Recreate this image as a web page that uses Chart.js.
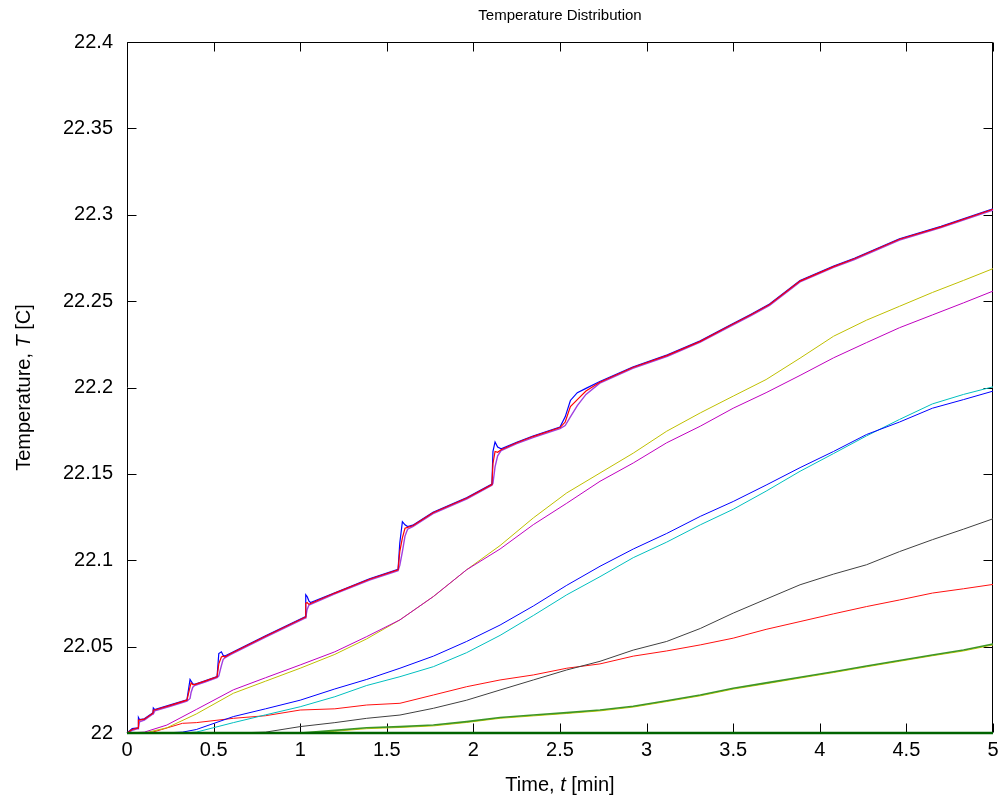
<!DOCTYPE html>
<html>
<head>
<meta charset="utf-8">
<script src="https://cdn.jsdelivr.net/npm/chart.js@4.4.1/dist/chart.umd.min.js"></script>
<style>
html,body{margin:0;padding:0;background:#fff;}
#wrap{width:1005px;height:805px;position:relative;}
canvas{display:block;}
</style>
</head>
<body>
<div id="wrap"><canvas id="c" width="1005" height="805"></canvas></div>
<script>
// ---- Data ----
const chartTitle = "Temperature Distribution";
const xTickValues = [0, 0.5, 1, 1.5, 2, 2.5, 3, 3.5, 4, 4.5, 5];
const yTickValues = [22, 22.05, 22.1, 22.15, 22.2, 22.25, 22.3, 22.35, 22.4];

// top group (three overlapping sensors)
const tTop = [0, 0.03, 0.064, 0.066, 0.072, 0.1, 0.15, 0.152, 0.16, 0.25, 0.346, 0.364, 0.37, 0.38, 0.39, 0.45, 0.52, 0.53, 0.545, 0.555, 0.565, 0.6, 0.8, 1.028, 1.032, 1.04, 1.05, 1.06, 1.2, 1.4, 1.565, 1.575, 1.59, 1.605, 1.62, 1.65, 1.767, 1.963, 2.107, 2.113, 2.125, 2.14, 2.16, 2.25, 2.344, 2.5, 2.53, 2.56, 2.6, 2.65, 2.73, 2.92, 3.12, 3.31, 3.48, 3.6, 3.71, 3.886, 4.08, 4.2, 4.46, 4.7, 5.0];
const topBlue = [22.000, 22.0025, 22.003, 22.009, 22.0078, 22.0082, 22.0118, 22.0145, 22.0135, 22.0163, 22.0192, 22.031, 22.030, 22.0285, 22.0282, 22.0302, 22.0327, 22.046, 22.047, 22.045, 22.0445, 22.0463, 22.0563, 22.0673, 22.080, 22.079, 22.0765, 22.0755, 22.0812, 22.0893, 22.0948, 22.110, 22.1223, 22.1205, 22.1195, 22.1203, 22.1278, 22.1363, 22.1441, 22.163, 22.1685, 22.1655, 22.1645, 22.1683, 22.1719, 22.1771, 22.183, 22.1925, 22.197, 22.1995, 22.2035, 22.2119, 22.2189, 22.227, 22.236, 22.2423, 22.2483, 22.2619, 22.2703, 22.2748, 22.2861, 22.2933, 22.3035];
const topRed = [22.000, 22.002, 22.003, 22.0075, 22.0075, 22.008, 22.0115, 22.0133, 22.0133, 22.016, 22.019, 22.0267, 22.029, 22.028, 22.028, 22.030, 22.0325, 22.040, 22.044, 22.0445, 22.044, 22.046, 22.056, 22.067, 22.075, 22.0755, 22.0745, 22.075, 22.081, 22.089, 22.0945, 22.105, 22.113, 22.1185, 22.119, 22.120, 22.1275, 22.136, 22.1438, 22.156, 22.163, 22.1625, 22.164, 22.168, 22.1716, 22.1768, 22.180, 22.189, 22.193, 22.198, 22.203, 22.2116, 22.2186, 22.2267, 22.2357, 22.242, 22.248, 22.2616, 22.270, 22.2745, 22.2858, 22.293, 22.3032];
const topPurple = [22.000, 22.0015, 22.0025, 22.003, 22.0065, 22.0075, 22.011, 22.011, 22.0128, 22.0155, 22.0185, 22.020, 22.0235, 22.0265, 22.0275, 22.0295, 22.032, 22.033, 22.039, 22.0425, 22.0435, 22.0455, 22.0555, 22.0665, 22.067, 22.0715, 22.074, 22.0745, 22.0805, 22.0885, 22.094, 22.097, 22.105, 22.114, 22.118, 22.1195, 22.127, 22.1355, 22.1435, 22.1445, 22.154, 22.1605, 22.1635, 22.1675, 22.171, 22.1762, 22.178, 22.183, 22.1895, 22.196, 22.2025, 22.2111, 22.2181, 22.2262, 22.2352, 22.2415, 22.2475, 22.2611, 22.2695, 22.274, 22.2853, 22.2925, 22.3027];

// middle pair
const tMid = [0, 0.1, 0.23, 0.4, 0.614, 0.8, 1.0, 1.2, 1.384, 1.576, 1.769, 1.961, 2.154, 2.346, 2.539, 2.731, 2.923, 3.116, 3.31, 3.5, 3.69, 3.886, 4.08, 4.27, 4.46, 4.65, 4.83, 5.0];
const midYellow = [22.000, 22.000, 22.003, 22.011, 22.023, 22.030, 22.0375, 22.0455, 22.0545, 22.0655, 22.079, 22.0945, 22.1085, 22.1245, 22.139, 22.1505, 22.162, 22.1747, 22.1853, 22.195, 22.2046, 22.217, 22.2297, 22.239, 22.247, 22.255, 22.262, 22.2688];
const midMagenta = [22.000, 22.0005, 22.0046, 22.0136, 22.025, 22.032, 22.0394, 22.047, 22.0558, 22.0655, 22.079, 22.0945, 22.1065, 22.1206, 22.133, 22.1457, 22.1563, 22.168, 22.1776, 22.188, 22.197, 22.207, 22.2172, 22.226, 22.2346, 22.242, 22.249, 22.2558];

// lower curves
const tLow = [0, 0.13, 0.2, 0.32, 0.4, 0.614, 0.8, 1.0, 1.2, 1.384, 1.576, 1.769, 1.961, 2.154, 2.346, 2.539, 2.731, 2.923, 3.116, 3.31, 3.5, 3.69, 3.886, 4.08, 4.27, 4.46, 4.65, 4.83, 5.0];
const lowBlue = [22.000, 22.000, 22.000, 22.0005, 22.002, 22.0095, 22.014, 22.019, 22.0255, 22.031, 22.0375, 22.0445, 22.053, 22.0625, 22.0735, 22.0855, 22.0965, 22.1065, 22.1155, 22.1254, 22.134, 22.1435, 22.1536, 22.163, 22.1728, 22.180, 22.188, 22.193, 22.1979];
const lowCyan = [22.000, 22.000, 22.000, 22.000, 22.0005, 22.006, 22.0105, 22.0152, 22.021, 22.0275, 22.0326, 22.0384, 22.0465, 22.0565, 22.068, 22.080, 22.0905, 22.1015, 22.1105, 22.1205, 22.1295, 22.140, 22.1515, 22.1618, 22.172, 22.1815, 22.1905, 22.196, 22.2004];
const lowBlack = [22.000, 22.000, 22.000, 22.000, 22.000, 22.000, 22.0005, 22.0037, 22.006, 22.0085, 22.0104, 22.0143, 22.019, 22.0249, 22.0307, 22.0365, 22.0415, 22.048, 22.053, 22.0605, 22.0694, 22.0775, 22.0858, 22.092, 22.0974, 22.105, 22.1119, 22.118, 22.124];
const lowRed = [22.000, 22.000, 22.002, 22.0056, 22.006, 22.0085, 22.010, 22.0133, 22.014, 22.0162, 22.0172, 22.022, 22.0268, 22.0307, 22.0336, 22.0375, 22.040, 22.0445, 22.0475, 22.051, 22.0549, 22.060, 22.0645, 22.069, 22.0732, 22.077, 22.081, 22.0835, 22.086];
const lowGreen = [22.000, 22.000, 22.000, 22.000, 22.000, 22.000, 22.000, 22.000, 22.0015, 22.003, 22.0037, 22.0046, 22.0066, 22.009, 22.0104, 22.0118, 22.0133, 22.0155, 22.0187, 22.022, 22.0259, 22.029, 22.0323, 22.0355, 22.0388, 22.042, 22.0452, 22.048, 22.0515];
const lowYellow = [22.000, 22.000, 22.000, 22.000, 22.000, 22.000, 22.000, 22.000, 22.001, 22.0025, 22.0032, 22.0041, 22.0061, 22.0085, 22.0099, 22.0113, 22.0128, 22.015, 22.0182, 22.0215, 22.0254, 22.0285, 22.0318, 22.035, 22.0383, 22.0415, 22.0447, 22.0475, 22.051];

// flat reference sensor
const tBase = [0, 5];
const baseGreen = [22, 22];

// ---- Build datasets (back to front) ----
function pts(ts, vs){ return ts.map((t,i)=>({x:t, y:vs[i]})); }
const series = [
  {t:tLow, v:lowYellow, c:'#c8c800', w:1},
  {t:tLow, v:lowGreen, c:'#3c9628', w:1.6},
  {t:tLow, v:lowRed, c:'#ff1010', w:1},
  {t:tLow, v:lowBlack, c:'#404040', w:1},
  {t:tLow, v:lowCyan, c:'#00bfbf', w:1},
  {t:tLow, v:lowBlue, c:'#0000ff', w:1},
  {t:tMid, v:midYellow, c:'#bfbf00', w:1},
  {t:tMid, v:midMagenta, c:'#bf00bf', w:1},
  {t:tTop, v:topPurple, c:'#a040e0', w:1.4},
  {t:tTop, v:topBlue, c:'#0000ff', w:1.2},
  {t:tTop, v:topRed, c:'#ff0000', w:1.2},
  {t:tBase, v:baseGreen, c:'#006400', w:2.5}
];
const N = series.length;
const datasets = series.map((s,i)=>({
  data: pts(s.t, s.v),
  borderColor: s.c,
  borderWidth: s.w,
  pointRadius: 0,
  tension: 0,
  fill: false,
  order: N - i,
  clip: 4
}));

const FONT = '"Liberation Sans", Arial, Helvetica, sans-serif';

const frame = {
  id: 'frame',
  beforeDatasetsDraw(chart){
    const {ctx, chartArea:a, scales:{x, y}} = chart;
    ctx.save();
    ctx.strokeStyle = '#000';
    ctx.lineWidth = 1;
    const L = Math.round(a.left)+0.5, R = Math.round(a.right)-0.5, T = Math.round(a.top)+0.5, B = Math.round(a.bottom)-0.5;
    ctx.beginPath();
    ctx.rect(L, T, R-L, B-T);
    const tl = 9;
    xTickValues.forEach(v=>{
      const px = Math.round(x.getPixelForValue(v))+0.5;
      ctx.moveTo(px, B); ctx.lineTo(px, B-tl);
      ctx.moveTo(px, T); ctx.lineTo(px, T+tl);
    });
    yTickValues.forEach(v=>{
      const py = Math.round(y.getPixelForValue(v))+0.5;
      ctx.moveTo(L, py); ctx.lineTo(L+tl, py);
      ctx.moveTo(R, py); ctx.lineTo(R-tl, py);
    });
    ctx.stroke();
    ctx.restore();
  },
  afterDraw(chart){
    const {ctx, chartArea:a} = chart;
    ctx.save();
    ctx.fillStyle = '#000';
    // title
    ctx.font = '15px ' + FONT;
    ctx.textAlign = 'center';
    ctx.textBaseline = 'alphabetic';
    const cx = (a.left + a.right)/2;
    ctx.fillText(chartTitle, cx, 20);
    // x axis title with italic t
    const parts = [['Time, ', false], ['t', true], [' [min]', false]];
    function drawParts(x0, y0){
      let w = 0;
      parts.forEach(p=>{ ctx.font = (p[1]?'italic ':'') + '20px ' + FONT; w += ctx.measureText(p[0]).width; });
      let xx = x0 - w/2;
      ctx.textAlign = 'left';
      parts.forEach(p=>{ ctx.font = (p[1]?'italic ':'') + '20px ' + FONT; ctx.fillText(p[0], xx, y0); xx += ctx.measureText(p[0]).width; });
    }
    drawParts(cx, 791);
    // y axis title
    const yparts = [['Temperature, ', false], ['T', true], [' [C]', false]];
    ctx.translate(30, (a.top + a.bottom)/2);
    ctx.rotate(-Math.PI/2);
    let w = 0;
    yparts.forEach(p=>{ ctx.font = (p[1]?'italic ':'') + '20px ' + FONT; w += ctx.measureText(p[0]).width; });
    let xx = -w/2;
    ctx.textAlign = 'left';
    yparts.forEach(p=>{ ctx.font = (p[1]?'italic ':'') + '20px ' + FONT; ctx.fillText(p[0], xx, 0); xx += ctx.measureText(p[0]).width; });
    ctx.restore();
  }
};

new Chart(document.getElementById('c'), {
  type: 'line',
  data: { datasets },
  options: {
    responsive: false,
    animation: false,
    events: [],
    layout: { padding: { top: 42, right: 12, left: 0, bottom: 0 } },
    plugins: { legend: { display: false }, tooltip: { enabled: false }, title: { display: false } },
    scales: {
      x: {
        type: 'linear', min: 0, max: 5,
        afterBuildTicks(s){ s.ticks = xTickValues.map(v=>({value:v})); },
        afterFit(s){ s.height = 72; },
        grid: { display: false, drawTicks: false },
        border: { display: false },
        ticks: { color: '#000', font: { family: FONT, size: 20 }, padding: 5, maxRotation: 0, autoSkip: false,
                 callback: v => String(v) }
      },
      y: {
        type: 'linear', min: 22, max: 22.4,
        afterBuildTicks(s){ s.ticks = yTickValues.map(v=>({value:v})); },
        afterFit(s){ s.width = 127; },
        grid: { display: false, drawTicks: false },
        border: { display: false },
        ticks: { color: '#000', font: { family: FONT, size: 20 }, padding: 14, autoSkip: false,
                 callback: v => String(+v.toFixed(2)) }
      }
    }
  },
  plugins: [frame]
});
</script>
</body>
</html>
